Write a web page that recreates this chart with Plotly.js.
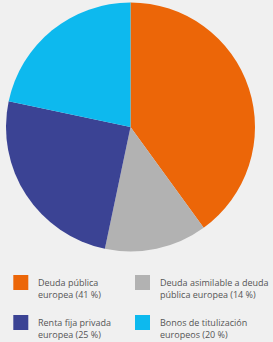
<!DOCTYPE html>
<html><head><meta charset="utf-8">
<script src="https://cdn.plot.ly/plotly-3.0.1.min.js"></script>
<style>html,body{margin:0;padding:0;background:#f0f0f0;}#chart{width:273px;height:342px;}</style>
</head><body><div id="chart"></div>
<script>
var categories = ["Deuda pública europea", "Deuda asimilable a deuda pública europea", "Renta fija privada europea", "Bonos de titulización europeos"];
var legendLabels = ["Deuda pública<br>europea (41 %)", "Deuda asimilable a deuda<br>pública europea (14 %)", "Renta fija privada<br>europea (25 %)", "Bonos de titulización<br>europeos (20 %)"];
var values = [40.0, 13.3, 25.0, 21.7];
var colors = ["#EC6608", "#B2B2B2", "#3B4394", "#0DB9EE"];

var W = 273, H = 342;
function px(x){return x/W;}
function py(y){return 1 - y/H;}

var trace = {
  type: "pie",
  labels: categories,
  values: values,
  sort: false,
  direction: "clockwise",
  rotation: 0,
  marker: {colors: colors, line: {width: 0}},
  textinfo: "none",
  hoverinfo: "label+percent",
  domain: {x: [px(6), px(255)], y: [py(251.5), py(2.5)]},
  showlegend: false
};

var legX = [13.3, 135], legY = [282.5, 322.5], sq = 15;
var shapes = [], annotations = [];
var font = {family: "'Open Sans', sans-serif", size: 9, color: "#555555"};
for (var i = 0; i < categories.length; i++) {
  var cx = legX[i % 2], cy = legY[Math.floor(i / 2)];
  shapes.push({type: "rect", xref: "paper", yref: "paper",
    x0: px(cx), x1: px(cx + sq), y0: py(cy - sq/2), y1: py(cy + sq/2),
    fillcolor: colors[i], line: {width: 0}});
  annotations.push({xref: "paper", yref: "paper", x: px(cx + 23), y: py(cy + 6),
    xanchor: "left", yanchor: "middle", align: "left", showarrow: false,
    text: legendLabels[i], font: font});
}

var layout = {
  width: W, height: H,
  margin: {l: 0, r: 0, t: 0, b: 0},
  paper_bgcolor: "#f0f0f0", plot_bgcolor: "#f0f0f0",
  shapes: shapes, annotations: annotations,
  showlegend: false
};
Plotly.newPlot("chart", [trace], layout, {displayModeBar: false, staticPlot: true});
</script></body></html>
